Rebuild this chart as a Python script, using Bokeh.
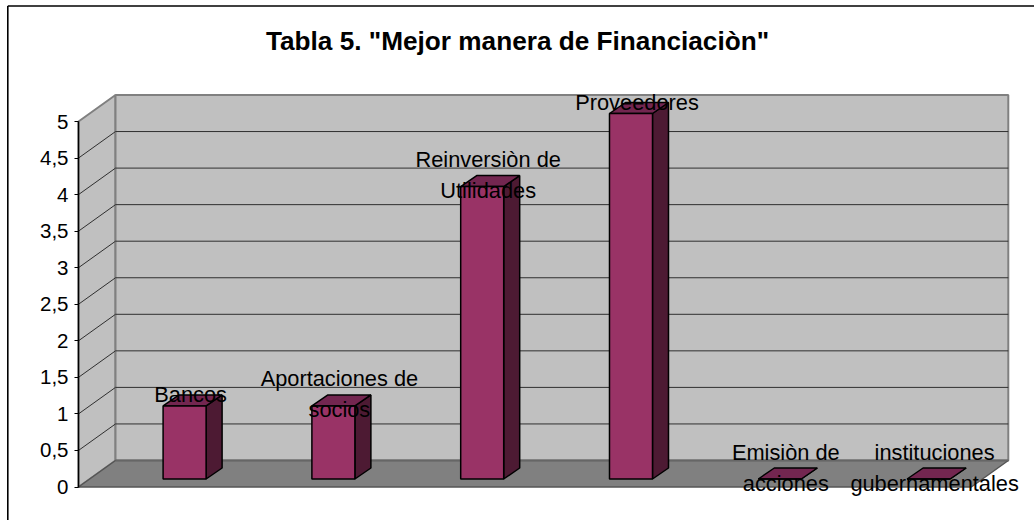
from bokeh.plotting import figure
from bokeh.models import LinearAxis, FixedTicker, Range1d, ColumnDataSource
from bokeh.core.properties import value
from bokeh.embed import file_html
from bokeh.resources import INLINE

title = 'Tabla 5. "Mejor manera de Financiaciòn"'
categories = ["Bancos", "Aportaciones de\nsocios", "Reinversiòn de\nUtilidades",
              "Proveedores", "Emisiòn de\nacciones", "instituciones\ngubernamentales"]
values = [1, 1, 4, 5, 0, 0]
ticks = [0, 0.5, 1, 1.5, 2, 2.5, 3, 3.5, 4, 4.5, 5]
tick_labels = ["0", "0,5", "1", "1,5", "2", "2,5", "3", "3,5", "4", "4,5", "5"]

W, H = 1034, 520
X0, Y0 = 78.0, 486.5      # front-left corner of the floor, in page pixels
UX, UY = 148.8, 73.1      # pixels per category, pixels per value
DX, DY = 37.0, 26.5       # depth of the box
BAR_DX, BAR_DY = 16.0, 11.0
N = len(categories)
FONT = "Liberation Sans"

def X(px):
    return (px - X0) / UX

def Y(py):
    return (Y0 - py) / UY

dx, dy = DX / UX, DY / UY
bdx, bdy = BAR_DX / UX, BAR_DY / UY
bar_center = 0.713        # category slot position of the first bar's front face
bar_w = 43.0 / UX
bar_lift = 8.0 / UY       # the bar stands inside the floor, above the front edge

p = figure(width=W, height=H, output_backend="svg", toolbar_location=None,
           x_range=Range1d(X(0), X(W)), y_range=Range1d(Y(H), Y(0)),
           min_border=0, min_border_left=0, min_border_right=0, min_border_top=0, min_border_bottom=0,
           outline_line_color=None, background_fill_color="white", border_fill_color="white",
           margin=(0, 0, 0, 0), styles={"position": "absolute", "left": "0px", "top": "0px"},
           x_axis_type=None, y_axis_type=None)
p.grid.visible = False

# frame lines of the chart area
p.line([X(7.3), X(7.3), ], [Y(H), Y(5.5)], line_color="black", line_width=1.6)
p.line([X(7.3), X(W)], [Y(5.5), Y(5.5)], line_color="black", line_width=1.6)

# box: side wall, back wall, floor
top = ticks[-1]
WALL, FLOOR, EDGE = "#C0C0C0", "#808080", "#808080"
p.patch([0, dx, dx, 0], [0, dy, top + dy, top], fill_color=WALL, line_color=EDGE, line_width=2)
p.patch([dx, N + dx, N + dx, dx], [dy, dy, top + dy, top + dy], fill_color=WALL, line_color=EDGE, line_width=2)

# gridlines
for t in ticks[1:-1]:
    p.line([0, dx, N + dx], [t, t + dy, t + dy], line_color="#2f2f2f", line_width=1)

p.patch([0, N, N + dx, dx], [0, 0, dy, dy], fill_color=FLOOR, line_color="#555555", line_width=1.5)
p.line([dx, N + dx], [dy, dy], line_color="#666666", line_width=1.5)

# bars
xs = [bar_center + i for i in range(N)]
left = [x - bar_w / 2 for x in xs]
right = [x + bar_w / 2 for x in xs]
base = [bar_lift] * N
tops = [v + bar_lift for v in values]
FRONT, SIDE, TOP = "#993366", "#4D1A33", "#732650"
side_x = [[r, r + bdx, r + bdx, r] for r in right]
side_y = [[b, b + bdy, t + bdy, t] for b, t in zip(base, tops)]
top_x = [[l, r, r + bdx, l + bdx] for l, r in zip(left, right)]
top_y = [[t, t, t + bdy, t + bdy] for t in tops]
p.patches(side_x, side_y, fill_color=SIDE, line_color="black", line_width=1.5)
p.patches(top_x, top_y, fill_color=TOP, line_color="black", line_width=1.5)
p.quad(left=left, right=right, bottom=base, top=tops, fill_color=FRONT, line_color="black", line_width=1.5)

# value axis
axis = LinearAxis(fixed_location=0, bounds=(0, 5), ticker=FixedTicker(ticks=ticks),
                  major_label_overrides={t: s for t, s in zip(ticks, tick_labels)})
axis.axis_line_color = "black"
axis.axis_line_width = 1.5
axis.major_tick_line_color = "black"
axis.major_tick_out = 4
axis.major_tick_in = 0
axis.minor_tick_line_color = None
axis.major_label_standoff = 6
axis.major_label_text_font = FONT
axis.major_label_text_font_size = "20.5px"
axis.major_label_text_color = "black"
p.add_layout(axis, "left")

# category labels sit on the bars
src = ColumnDataSource(dict(x=[x + 6 / UX for x in xs], y=tops, t=categories))
p.text("x", "y", text="t", source=src, text_font=value(FONT), text_font_size="21.8px",
       text_align="center", text_baseline="middle", y_offset=-11.5, text_color="black",
       text_line_height=1.24)

p.text([X(517)], [Y(40)], text=[title], text_font=value(FONT), text_font_size="26.2px", text_font_style="bold",
       text_align="center", text_baseline="middle", text_color="black")

open("out.html", "w").write(file_html(p, INLINE))
